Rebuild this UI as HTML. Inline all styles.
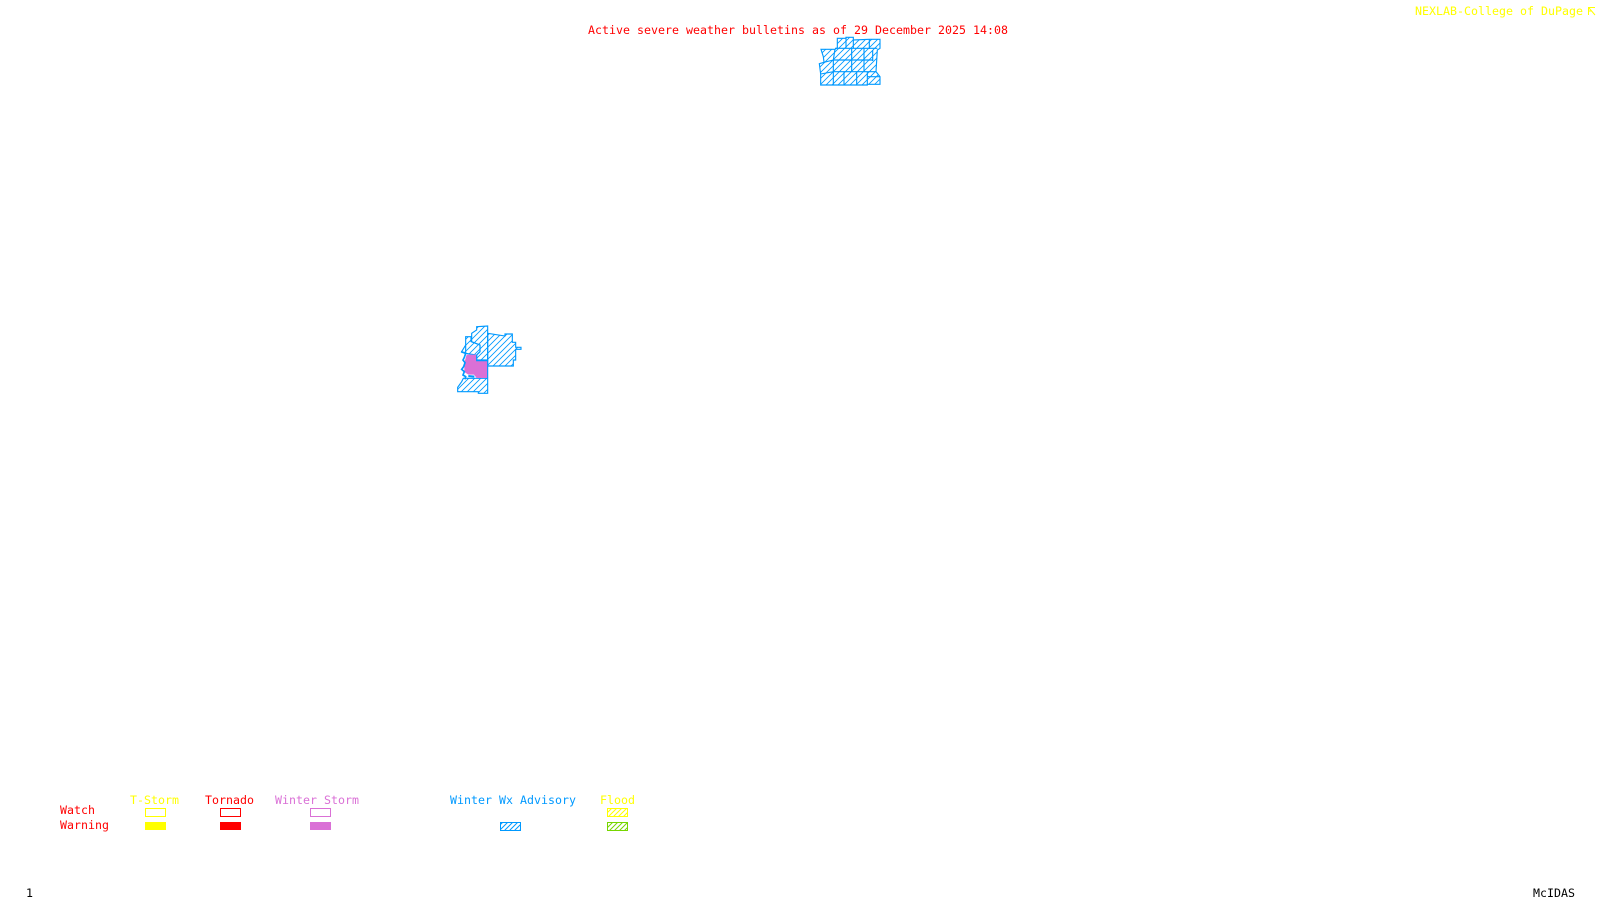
<!DOCTYPE html>
<html><head><meta charset="utf-8"><title>Active severe weather bulletins</title>
<style>
html,body{margin:0;padding:0;background:#fff;width:1600px;height:900px;overflow:hidden}
svg{display:block}
text{font-family:"DejaVu Sans Mono","Liberation Mono",monospace;font-size:11.6px;letter-spacing:.02px;white-space:pre}
</style></head><body>
<svg width="1600" height="900" viewBox="0 0 1600 900" xmlns="http://www.w3.org/2000/svg">
<defs>
<pattern id="hz" patternUnits="userSpaceOnUse" width="18" height="18">
<path d="M-3 3L3 -3M0 18L18 0M15 21L21 15" stroke="#0099ff" stroke-width="2.6" fill="none"/>
</pattern>
<pattern id="hb" patternUnits="userSpaceOnUse" width="5" height="5">
<path d="M-1 1L1 -1M0 5L5 0M4 6L6 4" stroke="#0099ff" stroke-width="1" fill="none"/>
</pattern>
<pattern id="hy" patternUnits="userSpaceOnUse" width="5" height="5">
<path d="M-1 1L1 -1M0 5L5 0M4 6L6 4" stroke="#ffff00" stroke-width="1" fill="none"/>
</pattern>
<pattern id="hg" patternUnits="userSpaceOnUse" width="5" height="5">
<path d="M-1 1L1 -1M0 5L5 0M4 6L6 4" stroke="#76d600" stroke-width="1" fill="none"/>
</pattern>
</defs>
<rect width="1600" height="900" fill="#fff"/>

<text x="588" y="34" fill="#ff0000">Active severe weather bulletins as of 29 December 2025 14:08</text>
<text x="1415" y="15" fill="#ffff00">NEXLAB-College of DuPage</text>
<path d="M1588.5 15V7.500H1595M1588.500 11H1592M1589 8L1595 15" stroke="#ffff00" fill="none"/>

<!-- top cluster -->
<g transform="translate(790 25) scale(.33333)" stroke="#0099ff" stroke-width="3.4" stroke-linejoin="miter" fill="url(#hz)">
<path d="M142 40H168V37H190V45L238 43H270V70L262 75L258 140L270 155V178H232V180H92V147L88 116L102 112L100 95L93 73H135L142 68Z"/>
<path fill="none" d="M135 70H262M168 37V70M190 45V70M238 43V72M130 105H250M185 70V140M222 70V140M248 75V108M102 112L130 105M135 72L130 105V180M92 147L130 140H258M162 140V180M200 140V178M232 140V178M232 155H270"/>
</g>

<!-- middle cluster -->
<g transform="translate(435 310) scale(.33333)" stroke="#0099ff" stroke-width="3.4" fill="url(#hz)">
<path d="M125 50L158 48V150H125V135L135 125V105L110 95V70L125 60Z"/>
<path d="M158 70L210 78V72H232V97H242V112H258V118H242V150H235V168H158Z"/>
<path d="M92 80H108V95L135 105V125L125 135L92 130V105L80 125L92 130Z"/>
<path d="M85 205H158V250H130V245H68V232L80 215Z"/>
<path fill="#da70d6" stroke="none" d="M88 158L95 134H125V152H158V204H125L117 194H100L88 186Z"/>
<path fill="none" stroke-width="5" d="M78 125L92 130L88 142L84 150L90 158L86 170L80 178L88 185L84 195L92 200L90 208"/>
<path fill="none" stroke-width="6" d="M100 198L118 200"/>
<path fill="none" d="M125 135V152H158V204"/>
</g>

<!-- legend -->
<text x="130" y="804" fill="#ffff00">T-Storm</text>
<text x="205" y="804" fill="#ff0000">Tornado</text>
<text x="275" y="804" fill="#da70d6">Winter Storm</text>
<text x="450" y="804" fill="#0099ff">Winter Wx Advisory</text>
<text x="600" y="804" fill="#ffff00">Flood</text>
<text x="60" y="814" fill="#ff0000">Watch</text>
<text x="60" y="829" fill="#ff0000">Warning</text>

<rect x="145.500" y="808.500" width="20" height="8" fill="none" stroke="#ffff00"/>
<rect x="220.500" y="808.500" width="20" height="8" fill="none" stroke="#ff0000"/>
<rect x="310.500" y="808.500" width="20" height="8" fill="none" stroke="#da70d6"/>
<rect x="607.500" y="808.500" width="20" height="8" fill="url(#hy)" stroke="#ffff00"/>

<rect x="145" y="822" width="21" height="8" fill="#ffff00"/>
<rect x="220" y="822" width="21" height="8" fill="#ff0000"/>
<rect x="310" y="822" width="21" height="8" fill="#da70d6"/>
<rect x="500.500" y="822.500" width="20" height="8" fill="url(#hb)" stroke="#0099ff"/>
<rect x="607.500" y="822.500" width="20" height="8" fill="url(#hg)" stroke="#76d600"/>

<text x="26" y="897" fill="#000">1</text>
<text x="1533" y="897" fill="#000">McIDAS</text>
</svg>
</body></html>
